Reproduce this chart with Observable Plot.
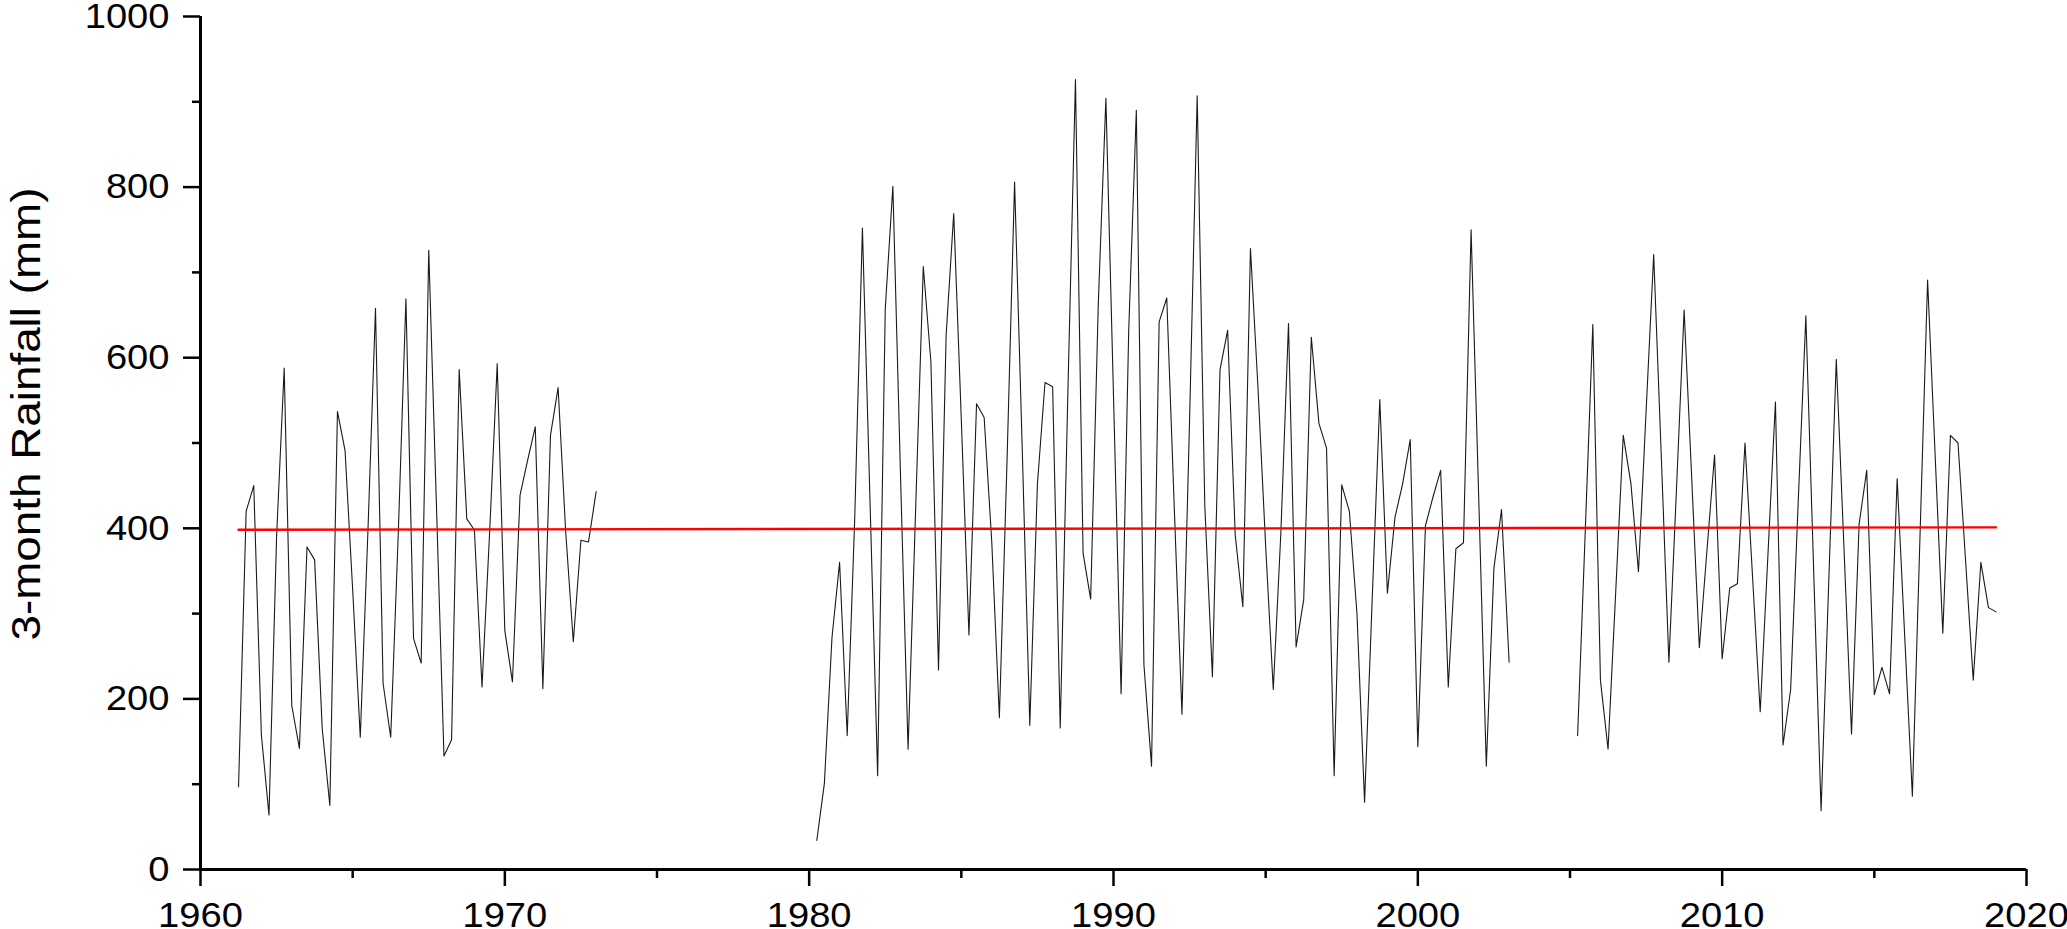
<!DOCTYPE html>
<html>
<head>
<meta charset="utf-8">
<script src="https://cdn.jsdelivr.net/npm/d3@7"></script>
<script src="https://cdn.jsdelivr.net/npm/@observablehq/plot@0.6"></script>
<style>
  html, body { margin: 0; padding: 0; background: #ffffff; }
  #chart svg { display: block; }
</style>
</head>
<body>
<div id="chart"></div>
<script>
// ---- Data (3-month rainfall, mm), quarterly samples ----
const quarterStep = 0.25;

const seg1Start = 1961.25;
const seg1Rain = [97, 420, 450, 158, 64, 390, 588, 192, 142, 378, 363, 165,
  75, 537, 491, 328, 155, 395, 658, 218, 155, 395, 669, 271,
  242, 726, 430, 133, 152, 586, 411, 398, 214, 395, 593, 280,
  220, 439, 480, 519, 212, 509, 565, 396, 267, 386, 384, 443];

const seg2Start = 1980.25;
const seg2Rain = [34, 101, 272, 360, 157, 415, 752, 431, 110, 657, 801, 464,
  141, 424, 707, 595, 234, 626, 769, 527, 275, 546, 530, 384,
  178, 477, 806, 495, 169, 452, 571, 566, 166, 558, 926, 371,
  317, 663, 904, 555, 206, 632, 890, 240, 121, 642, 670, 421,
  182, 527, 907, 427, 226, 586, 632, 392, 308, 728, 563, 379,
  211, 395, 640, 261, 316, 624, 523, 494, 110, 451, 420, 300,
  79, 316, 551, 324, 413, 452, 504, 144, 403, 437, 468, 214,
  376, 383, 750, 437, 121, 353, 422, 243];

const seg3Start = 2005.25;
const seg3Rain = [157, 395, 639, 222, 141, 324, 509, 453, 349, 537, 721, 484,
  243, 447, 656, 458, 260, 374, 486, 247, 330, 335, 500, 342,
  185, 366, 548, 146, 211, 432, 649, 358, 69, 335, 598, 379,
  159, 405, 468, 205, 237, 206, 458, 272, 86, 390, 691, 484,
  277, 509, 500, 361, 222, 360, 307, 302];

// trend line end points
const trendYears = [1961.25, 2019.0];
const trendRain = [398.3, 401.1];

// axes
const xMajorTicks = [1960, 1970, 1980, 1990, 2000, 2010, 2020];
const xMinorTicks = [1965, 1975, 1985, 1995, 2005, 2015];
const yMajorTicks = [0, 200, 400, 600, 800, 1000];
const yMinorTicks = [100, 300, 500, 700, 900];
const yLabel = "3-month Rainfall (mm)";

// ---- Build tables ----
const rows = [];
[[seg1Start, seg1Rain], [seg2Start, seg2Rain], [seg3Start, seg3Rain]].forEach(([start, vals], k) => {
  vals.forEach((v, i) => rows.push({year: start + i * quarterStep, rain: v, seg: k}));
});
const trend = trendYears.map((y, i) => ({year: y, rain: trendRain[i]}));

const fontFamily = "'Liberation Sans', Arial, Helvetica, sans-serif";

const chart = Plot.plot({
  width: 2067,
  height: 929,
  marginLeft: 200,
  marginRight: 41,
  marginTop: 16,
  marginBottom: 60,
  style: {fontFamily, background: "#ffffff", color: "#000000"},
  x: {domain: [1960, 2020]},
  y: {domain: [0, 1000]},
  marks: [
    // data line
    Plot.line(rows, {x: "year", y: "rain", z: "seg", stroke: "#1a1a1a", strokeWidth: 1.1}),
    // trend line
    Plot.line(trend, {x: "year", y: "rain", stroke: "#ff0000", strokeWidth: 2.4}),
    // axis lines
    Plot.ruleX([1960], {y1: 0, y2: 1000, stroke: "#000", strokeWidth: 3}),
    Plot.ruleY([0], {x1: 1960, x2: 2020, stroke: "#000", strokeWidth: 3}),
    // y axis ticks
    Plot.axisY({ticks: yMajorTicks, tickSize: 17, tickPadding: 14, tickFormat: d => String(d),
      fontSize: 35, label: null, stroke: "#000", strokeWidth: 2.5}),
    Plot.axisY({ticks: yMinorTicks, tickSize: 8, tickFormat: () => "", label: null,
      stroke: "#000", strokeWidth: 2.5}),
    // x axis ticks
    Plot.axisX({ticks: xMajorTicks, tickSize: 17, tickPadding: 16, tickFormat: d => String(d),
      fontSize: 35, label: null, stroke: "#000", strokeWidth: 2.5}),
    Plot.axisX({ticks: xMinorTicks, tickSize: 9, tickFormat: () => "", label: null,
      stroke: "#000", strokeWidth: 2.5}),
    // y axis title
    Plot.text([yLabel], {text: d => d, frameAnchor: "left", rotate: -90, textAnchor: "middle",
      lineAnchor: "middle", dx: -173, dy: -29, fontSize: 40, fill: "#000"})
  ]
});

// slightly wider glyphs, as in the reference
chart.querySelectorAll('g[aria-label="x-axis tick label"] text, g[aria-label="y-axis tick label"] text').forEach(t => {
  const s = t.textContent;
  if (s && s.length) {
    t.setAttribute("textLength", (s.length * 21.2).toFixed(1));
    t.setAttribute("lengthAdjust", "spacingAndGlyphs");
  }
});
chart.querySelectorAll('g[aria-label="text"] text').forEach(t => {
  t.setAttribute("textLength", "453");
  t.setAttribute("lengthAdjust", "spacingAndGlyphs");
});

document.getElementById("chart").appendChild(chart);
</script>
</body>
</html>
